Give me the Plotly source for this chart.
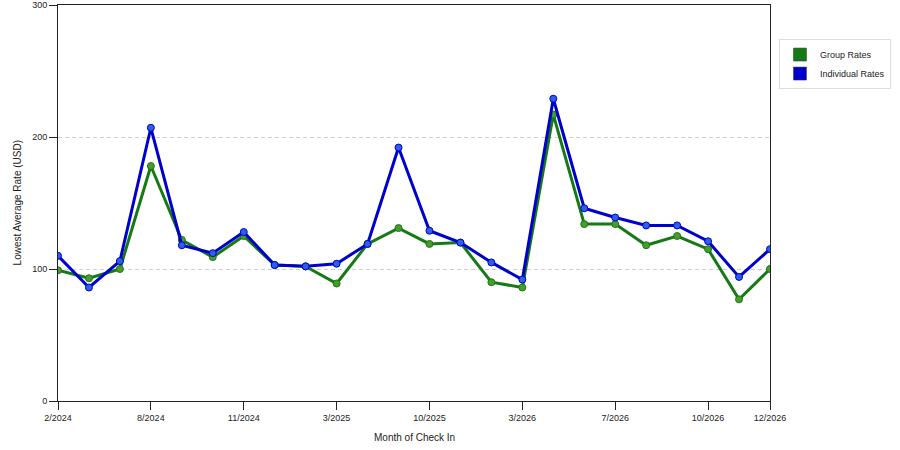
import plotly.graph_objects as go

months = ["2/2024", "4/2024", "6/2024", "8/2024", "9/2024", "10/2024", "11/2024", "12/2024",
          "1/2025", "3/2025", "5/2025", "8/2025", "10/2025", "11/2025", "1/2026", "3/2026",
          "5/2026", "6/2026", "7/2026", "8/2026", "9/2026", "10/2026", "11/2026", "12/2026"]
group_rates = [99, 93, 100, 178, 122, 109, 125, 103, 102, 89, 119, 131, 119, 120, 90, 86,
               217, 134, 134, 118, 125, 115, 77, 100]
individual_rates = [110, 86, 106, 207, 118, 112, 128, 103, 102, 104, 119, 192, 129, 120, 105, 92,
                    229, 146, 139, 133, 133, 121, 94, 115]
tick_labels = ["2/2024", "8/2024", "11/2024", "3/2025", "10/2025", "3/2026", "7/2026", "10/2026", "12/2026"]

FONT = "Liberation Sans"
fig = go.Figure()
series = [("Group Rates", group_rates, "#157a15", "#4c9a2c"),
          ("Individual Rates", individual_rates, "#0000cc", "#2d5ee8")]
for name, vals, lc, mc in series:
    fig.add_trace(go.Scatter(x=months, y=vals, mode="lines+markers", name=name,
                             line=dict(color=lc, width=3),
                             marker=dict(size=7, color=mc, line=dict(color=lc, width=1)),
                             showlegend=False))
for name, vals, lc, mc in series:
    fig.add_trace(go.Scatter(x=[None], y=[None], mode="markers", name=name,
                             marker=dict(symbol="square", size=13, color=lc,
                                         line=dict(color="#333333", width=0.5))))

fig.update_layout(
    width=900, height=450,
    margin=dict(l=58, r=130, t=5, b=49, autoexpand=False),
    paper_bgcolor="white", plot_bgcolor="white",
    font=dict(family=FONT, size=9, color="#222222"),
    legend=dict(x=1.0126, y=0.914, xanchor="left", yanchor="top",
                bordercolor="#dddddd", borderwidth=1, bgcolor="white",
                font=dict(size=9), itemwidth=30, tracegroupgap=2),
    xaxis=dict(type="category", range=[0, len(months) - 1], automargin=False,
               tickmode="array", tickvals=tick_labels, ticktext=tick_labels,
               showline=True, linecolor="#222222", linewidth=1, mirror=True,
               ticks="outside", ticklen=8, tickcolor="#222222",
               showgrid=False, zeroline=False),
    yaxis=dict(range=[0, 300], tickvals=[0, 100, 200, 300], automargin=False,
               showline=True, linecolor="#222222", linewidth=1, mirror=True,
               ticks="outside", ticklen=8, tickcolor="#222222",
               showgrid=True, gridcolor="#d0d0d0", griddash="4px,3px", gridwidth=1,
               zeroline=False),
    annotations=[
        dict(text="Month of Check In", xref="paper", yref="paper", x=0.5, y=-0.092,
             xanchor="center", yanchor="middle", showarrow=False, font=dict(size=10)),
        dict(text="Lowest Average Rate (USD)", xref="paper", yref="paper", x=-0.057, y=0.5,
             xanchor="center", yanchor="middle", textangle=-90, showarrow=False, font=dict(size=10)),
    ],
)
fig.write_html("out.html", config={"displayModeBar": False},
               post_script="document.body.style.margin='0';")
